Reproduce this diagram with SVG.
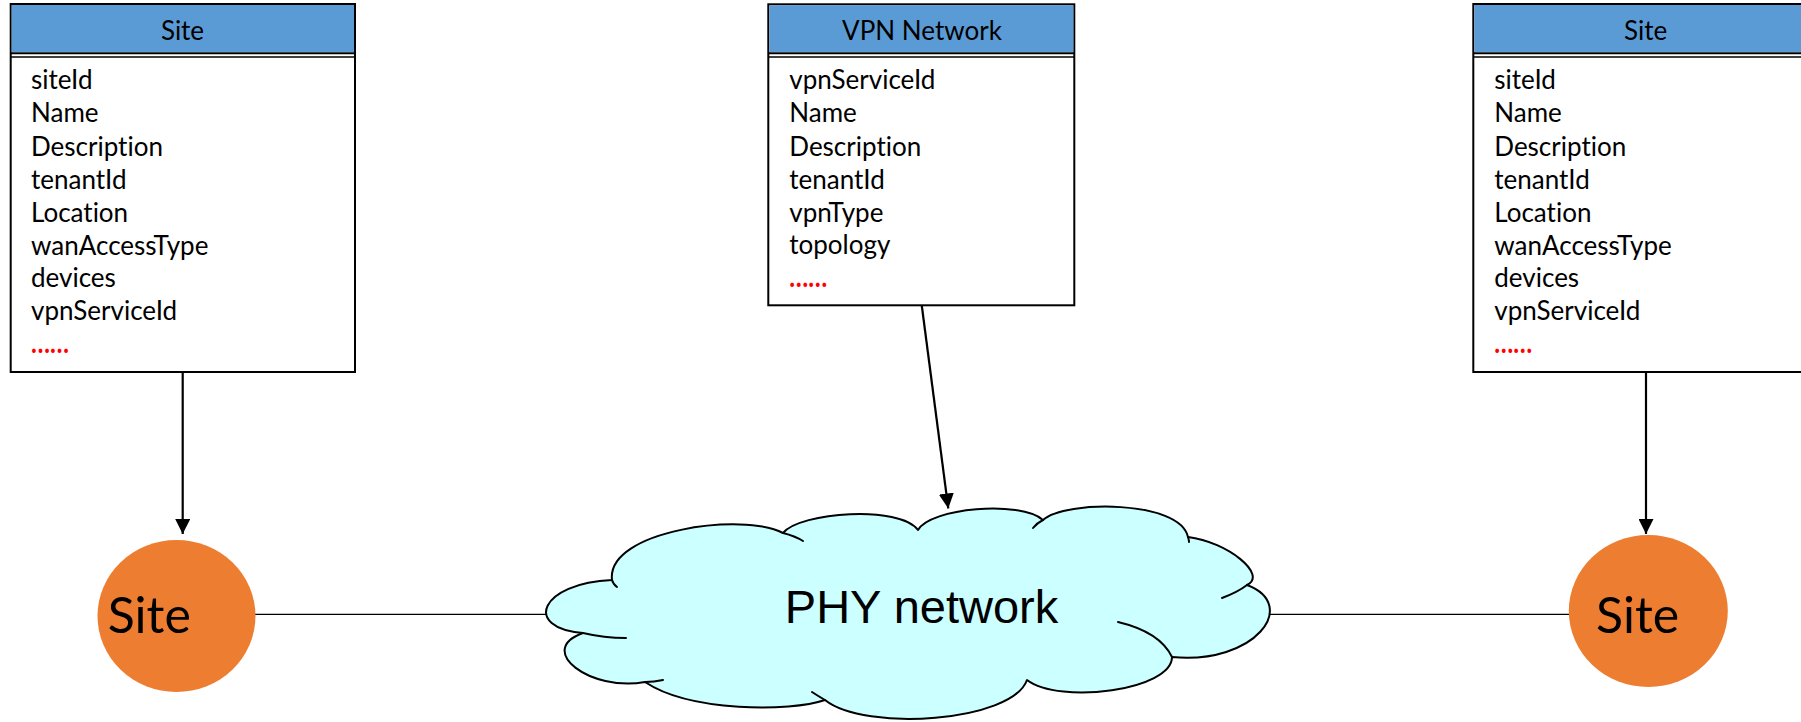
<svg xmlns="http://www.w3.org/2000/svg" width="1801" height="722" viewBox="0 0 1801 722">
<defs>
<style>
text{font-variant-ligatures:none;font-feature-settings:"liga" 0,"clig" 0}
.box{fill:#ffffff;stroke:#000000;stroke-width:2}
.hdr{fill:#5B9BD5}
.sep{stroke:#000000;fill:none}
.title{font-family:Lato,"Open Sans",sans-serif;font-size:26px;fill:#000000;text-anchor:middle}
.attr{font-family:Lato,"Open Sans",sans-serif;font-size:26px;fill:#000000}
.dots{font-family:Lato,"Open Sans",sans-serif;font-size:28px;font-weight:bold;fill:#FF0000}
.site{fill:#ED7D31}
.sitetxt{font-family:Lato,"Open Sans",sans-serif;font-size:50px;fill:#000000}
.cloud{fill:#CCFFFF;stroke:#000000;stroke-width:2;stroke-linejoin:round}
.tail{fill:none;stroke:#000000;stroke-width:2;stroke-linecap:round}
.phytxt{font-family:"Liberation Sans",Arial,sans-serif;font-size:47px;fill:#000000;text-anchor:middle}
.arrow{stroke:#000000;stroke-width:2.2;fill:none}
.link{stroke:#000000;stroke-width:1.3;fill:none}
</style>
<marker id="ah" viewBox="0 0 15 15" refX="15" refY="7.5" markerWidth="15" markerHeight="15" markerUnits="userSpaceOnUse" orient="auto">
<path d="M0,0 L15,7.5 L0,15 z" fill="#000000"/>
</marker>
</defs>
<rect width="1801" height="722" fill="#ffffff"/>

<g id="connectors">
<line class="arrow" x1="182.7" y1="372" x2="182.7" y2="534" marker-end="url(#ah)"/>
<line class="arrow" x1="1646" y1="372" x2="1646" y2="534" marker-end="url(#ah)"/>
<line class="arrow" x1="921.7" y1="305" x2="948.3" y2="508.5" marker-end="url(#ah)"/>
<line class="link" x1="255" y1="614.3" x2="548" y2="614.3"/>
<line class="link" x1="1269" y1="614.3" x2="1570" y2="614.3"/>
</g>

<g id="site-box-left">
<rect class="box" x="10.7" y="4" width="344.3" height="368"/>
<rect class="hdr" x="11.7" y="5" width="342.3" height="47"/>
<line class="sep" x1="10.7" y1="53.3" x2="355" y2="53.3" stroke-width="2"/>
<line class="sep" x1="10.7" y1="57" x2="355" y2="57" stroke-width="1.7"/>
<text class="title" x="182.5" y="40">Site</text>
<text class="attr" x="31" y="89">siteId</text>
<text class="attr" x="31" y="122">Name</text>
<text class="attr" x="31" y="155.5">Description</text>
<text class="attr" x="31" y="188.5">tenantId</text>
<text class="attr" x="31" y="221.5">Location</text>
<text class="attr" x="31" y="254.5">wanAccessType</text>
<text class="attr" x="31" y="287">devices</text>
<text class="attr" x="31" y="320">vpnServiceId</text>
<text class="dots" x="31" y="352.5" textLength="38" lengthAdjust="spacingAndGlyphs">……</text>
</g>

<g id="vpn-network-box">
<rect class="box" x="768.3" y="4.3" width="306" height="301"/>
<rect class="hdr" x="769.3" y="5.3" width="304" height="46.7"/>
<line class="sep" x1="768.3" y1="53.3" x2="1074.3" y2="53.3" stroke-width="2"/>
<line class="sep" x1="768.3" y1="57" x2="1074.3" y2="57" stroke-width="1.7"/>
<text class="title" x="922" y="39.5">VPN Network</text>
<text class="attr" x="789.3" y="89">vpnServiceId</text>
<text class="attr" x="789.3" y="122">Name</text>
<text class="attr" x="789.3" y="155.5">Description</text>
<text class="attr" x="789.3" y="188.5">tenantId</text>
<text class="attr" x="789.3" y="221.5">vpnType</text>
<text class="attr" x="789.3" y="253.5">topology</text>
<text class="dots" x="789.3" y="287" textLength="38" lengthAdjust="spacingAndGlyphs">……</text>
</g>

<g id="site-box-right">
<rect class="box" x="1473.3" y="4" width="344.3" height="368"/>
<rect class="hdr" x="1474.3" y="5" width="342.3" height="47"/>
<line class="sep" x1="1473.3" y1="53.3" x2="1818" y2="53.3" stroke-width="2"/>
<line class="sep" x1="1473.3" y1="57" x2="1818" y2="57" stroke-width="1.7"/>
<text class="title" x="1645.7" y="40">Site</text>
<text class="attr" x="1494.3" y="89">siteId</text>
<text class="attr" x="1494.3" y="122">Name</text>
<text class="attr" x="1494.3" y="155.5">Description</text>
<text class="attr" x="1494.3" y="188.5">tenantId</text>
<text class="attr" x="1494.3" y="221.5">Location</text>
<text class="attr" x="1494.3" y="254.5">wanAccessType</text>
<text class="attr" x="1494.3" y="287">devices</text>
<text class="attr" x="1494.3" y="320">vpnServiceId</text>
<text class="dots" x="1494.3" y="352.5" textLength="38" lengthAdjust="spacingAndGlyphs">……</text>
</g>

<g id="site-node-left">
<ellipse class="site" cx="176.5" cy="616" rx="79" ry="76"/>
<text class="sitetxt" x="107.7" y="633">Site</text>
</g>

<g id="site-node-right">
<ellipse class="site" cx="1648.3" cy="611" rx="79.5" ry="76"/>
<text class="sitetxt" x="1596" y="633">Site</text>
</g>

<g id="phy-network">
<path class="cloud" d="M612,580 C606,530 745,512 783,533 C800,512 900,505 918,530 C930,508 1020,500 1043,520 C1065,500 1180,500 1188,537 C1228,542 1268,575 1247,585 C1300,605 1255,665 1172,657 C1172,690 1060,705 1027,680 C1012,722 865,732 825,700 C790,712 690,712 645,682 C590,692 535,650 583,633 C522,628 540,583 612,580 Z"/>
<path class="tail" d="M612,580 Q613,584 617,587"/>
<path class="tail" d="M783,533 Q795,536 803,541"/>
<path class="tail" d="M1033,528 Q1037,523 1043,520"/>
<path class="tail" d="M1188,537 Q1189,540 1189,542"/>
<path class="tail" d="M1222,598 Q1238,592 1247,585"/>
<path class="tail" d="M1118,622 Q1160,632 1172,657"/>
<path class="tail" d="M825,700 Q818,696 812,692"/>
<path class="tail" d="M663,680 Q654,682 645,682"/>
<path class="tail" d="M583,633 Q604,638 626,638"/>
<text class="phytxt" x="921.5" y="623">PHY network</text>
</g>
</svg>
